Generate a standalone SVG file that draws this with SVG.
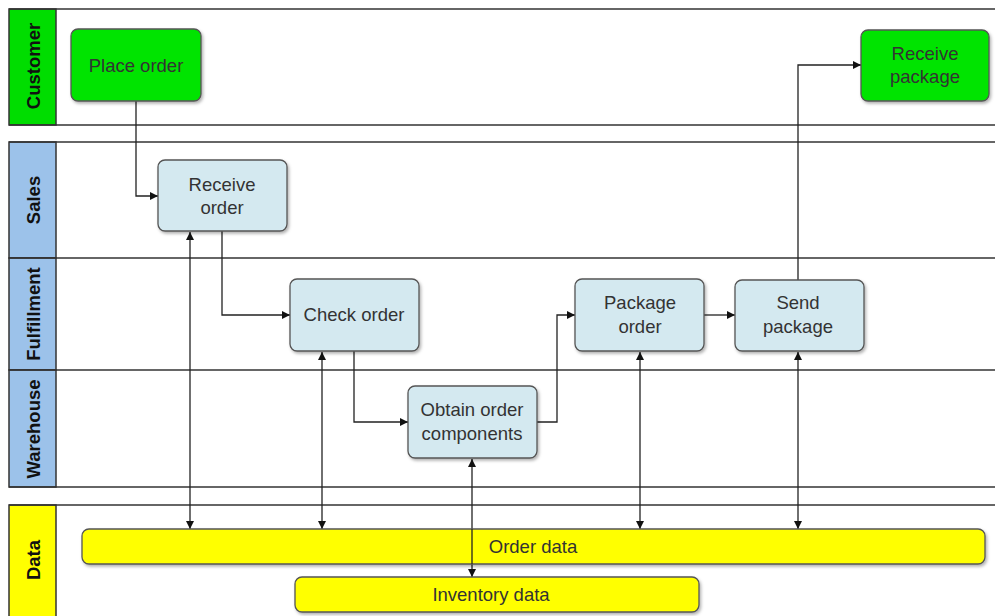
<svg xmlns="http://www.w3.org/2000/svg" width="995" height="616" viewBox="0 0 995 616">
<defs>
<marker id="arr" viewBox="0 0 10 10" refX="10" refY="5" markerWidth="10" markerHeight="8" markerUnits="userSpaceOnUse" orient="auto-start-reverse">
<path d="M0,0 L10,5 L0,10 z" fill="#111"/>
</marker>
<filter id="sh" x="-10%" y="-10%" width="125%" height="130%">
<feDropShadow dx="1.5" dy="2" stdDeviation="1.5" flood-color="#000" flood-opacity="0.3"/>
</filter>
</defs>
<style>
.lane{fill:none;stroke:#333;stroke-width:1.5}
.hdr{stroke:#333;stroke-width:1.5}
.ht{font-family:"Liberation Sans",Arial,sans-serif;font-size:18.5px;font-weight:bold;fill:#111;text-anchor:middle}
.node{stroke:#555;stroke-width:1.3;filter:url(#sh)}
.g{fill:#00e400}
.b{fill:#d4e9f0}
.y{fill:#ffff00}
.nt{font-family:"Liberation Sans",Arial,sans-serif;font-size:18.5px;fill:#333;text-anchor:middle}
.c{fill:none;stroke:#222;stroke-width:1.3}
</style>
<rect width="995" height="616" fill="#fff"/>
<g id="lane-customer">
<rect class="hdr" x="9" y="9" width="47" height="116" fill="#00dd00"/>
<line class="lane" x1="9" y1="9" x2="995" y2="9"/>
<line class="lane" x1="9" y1="125" x2="995" y2="125"/>
<text class="ht" transform="translate(39.5,66) rotate(-90)">Customer</text>
</g>
<g id="lane-sales">
<rect class="hdr" x="9" y="142" width="47" height="116" fill="#9cc2ea"/>
<line class="lane" x1="9" y1="142" x2="995" y2="142"/>
<text class="ht" transform="translate(39.5,200) rotate(-90)">Sales</text>
</g>
<g id="lane-fulfillment">
<rect class="hdr" x="9" y="258" width="47" height="112" fill="#9cc2ea"/>
<line class="lane" x1="9" y1="258" x2="995" y2="258"/>
<text class="ht" transform="translate(39.5,314) rotate(-90)">Fulfillment</text>
</g>
<g id="lane-warehouse">
<rect class="hdr" x="9" y="370" width="47" height="117" fill="#9cc2ea"/>
<line class="lane" x1="9" y1="370" x2="995" y2="370"/>
<line class="lane" x1="9" y1="487" x2="995" y2="487"/>
<text class="ht" transform="translate(39.5,429) rotate(-90)">Warehouse</text>
</g>
<g id="lane-data">
<rect class="hdr" x="9" y="505" width="47" height="113" fill="#ffff00"/>
<line class="lane" x1="9" y1="505" x2="995" y2="505"/>
<text class="ht" transform="translate(39.5,560) rotate(-90)">Data</text>
</g>
<g id="connectors">
<path class="c" d="M136,101 V196 H158" marker-end="url(#arr)"/>
<path class="c" d="M222,231 V315 H290" marker-end="url(#arr)"/>
<path class="c" d="M354,351 V422 H408" marker-end="url(#arr)"/>
<path class="c" d="M537,422 H557 V315 H575" marker-end="url(#arr)"/>
<path class="c" d="M704,315 H735" marker-end="url(#arr)"/>
<path class="c" d="M798,280 V65 H861" marker-end="url(#arr)"/>
<path class="c" d="M190,232 V529" marker-start="url(#arr)" marker-end="url(#arr)"/>
<path class="c" d="M322,352 V529" marker-start="url(#arr)" marker-end="url(#arr)"/>
<path class="c" d="M472,459 V577" marker-start="url(#arr)" marker-end="url(#arr)"/>
<path class="c" d="M640,352 V529" marker-start="url(#arr)" marker-end="url(#arr)"/>
<path class="c" d="M798,352 V529" marker-start="url(#arr)" marker-end="url(#arr)"/>
</g>
<g id="place-order">
<rect class="node g" x="71" y="29" width="130" height="72" rx="7"/>
<text class="nt" x="136" y="72">Place order</text>
</g>
<g id="receive-order">
<rect class="node b" x="158" y="160" width="129" height="71" rx="7"/>
<text class="nt" x="222" y="191">Receive</text>
<text class="nt" x="222" y="214">order</text>
</g>
<g id="check-order">
<rect class="node b" x="290" y="279" width="129" height="72" rx="7"/>
<text class="nt" x="354" y="321">Check order</text>
</g>
<g id="obtain-order-components">
<rect class="node b" x="408" y="386" width="129" height="72" rx="7"/>
<text class="nt" x="472" y="416">Obtain order</text>
<text class="nt" x="472" y="440">components</text>
</g>
<g id="package-order">
<rect class="node b" x="575" y="279" width="129" height="72" rx="7"/>
<text class="nt" x="640" y="309">Package</text>
<text class="nt" x="640" y="333">order</text>
</g>
<g id="send-package">
<rect class="node b" x="735" y="280" width="129" height="71" rx="7"/>
<text class="nt" x="798" y="309">Send</text>
<text class="nt" x="798" y="333">package</text>
</g>
<g id="receive-package">
<rect class="node g" x="861" y="30" width="128" height="71" rx="7"/>
<text class="nt" x="925" y="60">Receive</text>
<text class="nt" x="925" y="83">package</text>
</g>
<g id="order-data">
<rect class="node y" x="82" y="529" width="903" height="35" rx="7"/>
<text class="nt" x="533" y="553">Order data</text>
</g>
<g id="inventory-data">
<rect class="node y" x="295" y="577" width="404" height="35" rx="7"/>
<text class="nt" x="491" y="601">Inventory data</text>
</g>
<path class="c" d="M472,529 V564"/>
</svg>
